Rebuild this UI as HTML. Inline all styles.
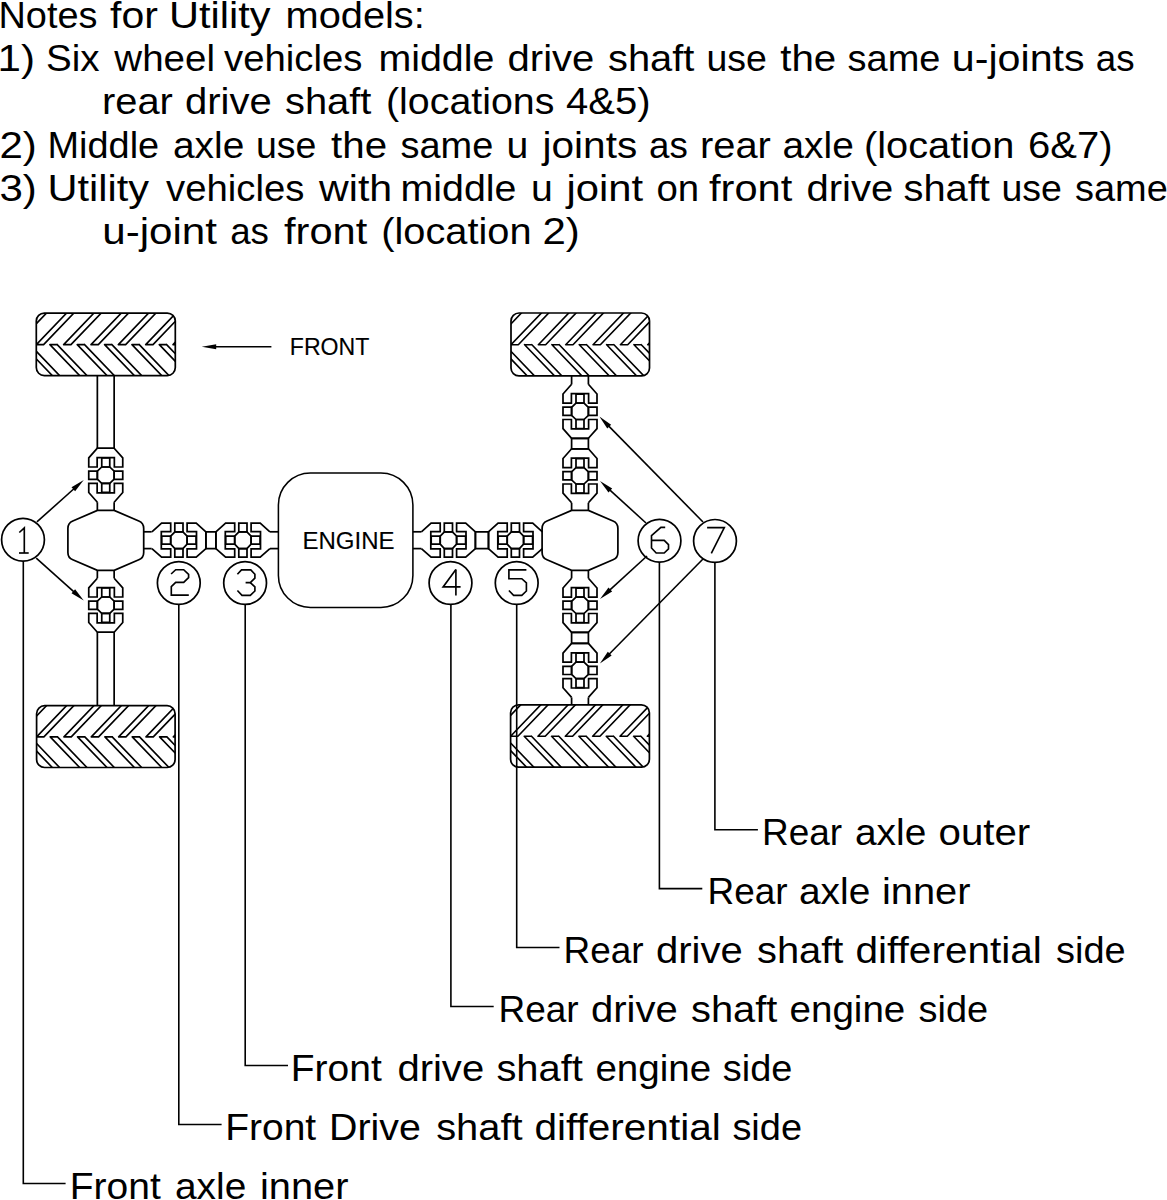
<!DOCTYPE html>
<html><head><meta charset="utf-8"><title>Utility models u-joint locations</title>
<style>html,body{margin:0;padding:0;background:#fff;width:1167px;height:1200px;overflow:hidden;position:relative}</style>
</head><body>
<svg width="1167" height="1200" viewBox="0 0 1167 1200" style="position:absolute;left:0;top:0">
<rect width="1167" height="1200" fill="#fff"/>
<g font-family="Liberation Sans, sans-serif" fill="#000">
<text x="-1.5" y="27.6" font-size="36.2" textLength="99" lengthAdjust="spacingAndGlyphs">Notes</text>
<text x="110" y="27.6" font-size="36.2" textLength="47.79" lengthAdjust="spacingAndGlyphs">for</text>
<text x="169" y="27.6" font-size="36.2" textLength="101.5" lengthAdjust="spacingAndGlyphs">Utility</text>
<text x="285.5" y="27.6" font-size="36.2" textLength="139.31" lengthAdjust="spacingAndGlyphs">models:</text>
<text x="-2.4" y="70.9" font-size="36.2" textLength="37.36" lengthAdjust="spacingAndGlyphs">1)</text>
<text x="46" y="70.9" font-size="36.2" textLength="53.58" lengthAdjust="spacingAndGlyphs">Six</text>
<text x="114.38" y="70.9" font-size="36.2" textLength="100.61" lengthAdjust="spacingAndGlyphs">wheel</text>
<text x="224" y="70.9" font-size="36.2" textLength="138.46" lengthAdjust="spacingAndGlyphs">vehicles</text>
<text x="378.4" y="70.9" font-size="36.2" textLength="115.99" lengthAdjust="spacingAndGlyphs">middle</text>
<text x="507.6" y="70.9" font-size="36.2" textLength="86.75" lengthAdjust="spacingAndGlyphs">drive</text>
<text x="608" y="70.9" font-size="36.2" textLength="86.4" lengthAdjust="spacingAndGlyphs">shaft</text>
<text x="706.4" y="70.9" font-size="36.2" textLength="60.46" lengthAdjust="spacingAndGlyphs">use</text>
<text x="780.2" y="70.9" font-size="36.2" textLength="56.06" lengthAdjust="spacingAndGlyphs">the</text>
<text x="847.6" y="70.9" font-size="36.2" textLength="92.86" lengthAdjust="spacingAndGlyphs">same</text>
<text x="951.8" y="70.9" font-size="36.2" textLength="132.84" lengthAdjust="spacingAndGlyphs">u-joints</text>
<text x="1095.8" y="70.9" font-size="36.2" textLength="38.8" lengthAdjust="spacingAndGlyphs">as</text>
<text x="102" y="114.2" font-size="36.2" textLength="70.9" lengthAdjust="spacingAndGlyphs">rear</text>
<text x="185" y="114.2" font-size="36.2" textLength="86.75" lengthAdjust="spacingAndGlyphs">drive</text>
<text x="285" y="114.2" font-size="36.2" textLength="86.4" lengthAdjust="spacingAndGlyphs">shaft</text>
<text x="386" y="114.2" font-size="36.2" textLength="168.35" lengthAdjust="spacingAndGlyphs">(locations</text>
<text x="566" y="114.2" font-size="36.2" textLength="84.5" lengthAdjust="spacingAndGlyphs">4&amp;5)</text>
<text x="-0.5" y="157.5" font-size="36.2" textLength="37.36" lengthAdjust="spacingAndGlyphs">2)</text>
<text x="47.5" y="157.5" font-size="36.2" textLength="111.63" lengthAdjust="spacingAndGlyphs">Middle</text>
<text x="173" y="157.5" font-size="36.2" textLength="71.3" lengthAdjust="spacingAndGlyphs">axle</text>
<text x="256" y="157.5" font-size="36.2" textLength="60.46" lengthAdjust="spacingAndGlyphs">use</text>
<text x="331" y="157.5" font-size="36.2" textLength="56.06" lengthAdjust="spacingAndGlyphs">the</text>
<text x="400.5" y="157.5" font-size="36.2" textLength="92.86" lengthAdjust="spacingAndGlyphs">same</text>
<text x="506.5" y="157.5" font-size="36.2" textLength="21.83" lengthAdjust="spacingAndGlyphs">u</text>
<text x="542.5" y="157.5" font-size="36.2" textLength="94.68" lengthAdjust="spacingAndGlyphs">joints</text>
<text x="649" y="157.5" font-size="36.2" textLength="38.8" lengthAdjust="spacingAndGlyphs">as</text>
<text x="700" y="157.5" font-size="36.2" textLength="70.9" lengthAdjust="spacingAndGlyphs">rear</text>
<text x="782.5" y="157.5" font-size="36.2" textLength="71.3" lengthAdjust="spacingAndGlyphs">axle</text>
<text x="864" y="157.5" font-size="36.2" textLength="150.32" lengthAdjust="spacingAndGlyphs">(location</text>
<text x="1028" y="157.5" font-size="36.2" textLength="84.5" lengthAdjust="spacingAndGlyphs">6&amp;7)</text>
<text x="-0.5" y="201.1" font-size="36.2" textLength="37.36" lengthAdjust="spacingAndGlyphs">3)</text>
<text x="47.5" y="201.1" font-size="36.2" textLength="101.5" lengthAdjust="spacingAndGlyphs">Utility</text>
<text x="166" y="201.1" font-size="36.2" textLength="138.46" lengthAdjust="spacingAndGlyphs">vehicles</text>
<text x="319.08" y="201.1" font-size="36.2" textLength="73.07" lengthAdjust="spacingAndGlyphs">with</text>
<text x="400.5" y="201.1" font-size="36.2" textLength="115.99" lengthAdjust="spacingAndGlyphs">middle</text>
<text x="531" y="201.1" font-size="36.2" textLength="21.83" lengthAdjust="spacingAndGlyphs">u</text>
<text x="566.52" y="201.1" font-size="36.2" textLength="76.62" lengthAdjust="spacingAndGlyphs">joint</text>
<text x="656.5" y="201.1" font-size="36.2" textLength="42.72" lengthAdjust="spacingAndGlyphs">on</text>
<text x="709" y="201.1" font-size="36.2" textLength="83.26" lengthAdjust="spacingAndGlyphs">front</text>
<text x="806.5" y="201.1" font-size="36.2" textLength="86.75" lengthAdjust="spacingAndGlyphs">drive</text>
<text x="903.5" y="201.1" font-size="36.2" textLength="86.4" lengthAdjust="spacingAndGlyphs">shaft</text>
<text x="1001.5" y="201.1" font-size="36.2" textLength="60.46" lengthAdjust="spacingAndGlyphs">use</text>
<text x="1075" y="201.1" font-size="36.2" textLength="92.86" lengthAdjust="spacingAndGlyphs">same</text>
<text x="102.2" y="244.2" font-size="36.2" textLength="114.82" lengthAdjust="spacingAndGlyphs">u-joint</text>
<text x="230.2" y="244.2" font-size="36.2" textLength="38.8" lengthAdjust="spacingAndGlyphs">as</text>
<text x="284" y="244.2" font-size="36.2" textLength="83.26" lengthAdjust="spacingAndGlyphs">front</text>
<text x="381.2" y="244.2" font-size="36.2" textLength="150.32" lengthAdjust="spacingAndGlyphs">(location</text>
<text x="542.4" y="244.2" font-size="36.2" textLength="37.36" lengthAdjust="spacingAndGlyphs">2)</text>
<text x="762" y="845" font-size="36.2" textLength="80.16" lengthAdjust="spacingAndGlyphs">Rear</text>
<text x="855" y="845" font-size="36.2" textLength="71.3" lengthAdjust="spacingAndGlyphs">axle</text>
<text x="938.5" y="845" font-size="36.2" textLength="91.72" lengthAdjust="spacingAndGlyphs">outer</text>
<text x="707.5" y="904" font-size="36.2" textLength="80.16" lengthAdjust="spacingAndGlyphs">Rear</text>
<text x="799" y="904" font-size="36.2" textLength="71.3" lengthAdjust="spacingAndGlyphs">axle</text>
<text x="882" y="904" font-size="36.2" textLength="88.48" lengthAdjust="spacingAndGlyphs">inner</text>
<text x="563.5" y="962.9" font-size="36.2" textLength="80.16" lengthAdjust="spacingAndGlyphs">Rear</text>
<text x="656" y="962.9" font-size="36.2" textLength="86.75" lengthAdjust="spacingAndGlyphs">drive</text>
<text x="757" y="962.9" font-size="36.2" textLength="86.4" lengthAdjust="spacingAndGlyphs">shaft</text>
<text x="855.5" y="962.9" font-size="36.2" textLength="186.39" lengthAdjust="spacingAndGlyphs">differential</text>
<text x="1056" y="962.9" font-size="36.2" textLength="69.61" lengthAdjust="spacingAndGlyphs">side</text>
<text x="498.5" y="1021.9" font-size="36.2" textLength="80.16" lengthAdjust="spacingAndGlyphs">Rear</text>
<text x="591" y="1021.9" font-size="36.2" textLength="86.75" lengthAdjust="spacingAndGlyphs">drive</text>
<text x="691" y="1021.9" font-size="36.2" textLength="86.4" lengthAdjust="spacingAndGlyphs">shaft</text>
<text x="789.5" y="1021.9" font-size="36.2" textLength="115.81" lengthAdjust="spacingAndGlyphs">engine</text>
<text x="918.5" y="1021.9" font-size="36.2" textLength="69.61" lengthAdjust="spacingAndGlyphs">side</text>
<text x="290.8" y="1080.7" font-size="36.2" textLength="90.99" lengthAdjust="spacingAndGlyphs">Front</text>
<text x="397.4" y="1080.7" font-size="36.2" textLength="86.75" lengthAdjust="spacingAndGlyphs">drive</text>
<text x="496.4" y="1080.7" font-size="36.2" textLength="86.4" lengthAdjust="spacingAndGlyphs">shaft</text>
<text x="595.4" y="1080.7" font-size="36.2" textLength="115.81" lengthAdjust="spacingAndGlyphs">engine</text>
<text x="722.8" y="1080.7" font-size="36.2" textLength="69.61" lengthAdjust="spacingAndGlyphs">side</text>
<text x="225.2" y="1139.6" font-size="36.2" textLength="90.99" lengthAdjust="spacingAndGlyphs">Front</text>
<text x="329" y="1139.6" font-size="36.2" textLength="91.9" lengthAdjust="spacingAndGlyphs">Drive</text>
<text x="436.2" y="1139.6" font-size="36.2" textLength="86.4" lengthAdjust="spacingAndGlyphs">shaft</text>
<text x="534.4" y="1139.6" font-size="36.2" textLength="186.39" lengthAdjust="spacingAndGlyphs">differential</text>
<text x="732.4" y="1139.6" font-size="36.2" textLength="69.61" lengthAdjust="spacingAndGlyphs">side</text>
<text x="69.8" y="1198.5" font-size="36.2" textLength="90.99" lengthAdjust="spacingAndGlyphs">Front</text>
<text x="175" y="1198.5" font-size="36.2" textLength="71.3" lengthAdjust="spacingAndGlyphs">axle</text>
<text x="260" y="1198.5" font-size="36.2" textLength="88.48" lengthAdjust="spacingAndGlyphs">inner</text>
<text x="302.4" y="548.6" font-size="23.5" stroke="#000" stroke-width="0.12" textLength="92.14" lengthAdjust="spacingAndGlyphs">ENGINE</text>
<text x="289.8" y="355.4" font-size="23.5" stroke="#000" stroke-width="0.12" textLength="79.56" lengthAdjust="spacingAndGlyphs">FRONT</text>
</g>
<line x1="271.4" y1="346.7" x2="214.2" y2="346.7" stroke="#000" stroke-width="1.5"/>
<path d="M201.7,346.7 L216.2,344.2 L216.2,349.2 Z" fill="#000"/>
<clipPath id="tc0"><rect x="36.3" y="313.1" width="139" height="62.5" rx="8"/></clipPath>
<g clip-path="url(#tc0)"><path d="M-18.4,344.6 L15.68,309.1 M-11.1,344.6 L22.98,309.1 M-18.4,344.6 L-11.1,344.6 M-4.8,344.6 L28.8,379.6 M2.5,344.6 L36.1,379.6 M-4.8,344.6 L2.5,344.6 M8.95,344.6 L43.03,309.1 M16.25,344.6 L50.33,309.1 M8.95,344.6 L16.25,344.6 M22.55,344.6 L56.15,379.6 M29.85,344.6 L63.45,379.6 M22.55,344.6 L29.85,344.6 M36.3,344.6 L70.38,309.1 M43.6,344.6 L77.68,309.1 M36.3,344.6 L43.6,344.6 M49.9,344.6 L83.5,379.6 M57.2,344.6 L90.8,379.6 M49.9,344.6 L57.2,344.6 M63.65,344.6 L97.73,309.1 M70.95,344.6 L105.03,309.1 M63.65,344.6 L70.95,344.6 M77.25,344.6 L110.85,379.6 M84.55,344.6 L118.15,379.6 M77.25,344.6 L84.55,344.6 M91,344.6 L125.08,309.1 M98.3,344.6 L132.38,309.1 M91,344.6 L98.3,344.6 M104.6,344.6 L138.2,379.6 M111.9,344.6 L145.5,379.6 M104.6,344.6 L111.9,344.6 M118.35,344.6 L152.43,309.1 M125.65,344.6 L159.73,309.1 M118.35,344.6 L125.65,344.6 M131.95,344.6 L165.55,379.6 M139.25,344.6 L172.85,379.6 M131.95,344.6 L139.25,344.6 M145.7,344.6 L179.78,309.1 M153,344.6 L187.08,309.1 M145.7,344.6 L153,344.6 M159.3,344.6 L192.9,379.6 M166.6,344.6 L200.2,379.6 M159.3,344.6 L166.6,344.6 M173.05,344.6 L207.13,309.1 M180.35,344.6 L214.43,309.1 M173.05,344.6 L180.35,344.6 M186.65,344.6 L220.25,379.6 M193.95,344.6 L227.55,379.6 M186.65,344.6 L193.95,344.6 M200.4,344.6 L234.48,309.1 M207.7,344.6 L241.78,309.1 M200.4,344.6 L207.7,344.6 M214,344.6 L247.6,379.6 M221.3,344.6 L254.9,379.6 M214,344.6 L221.3,344.6" fill="none" stroke="#000" stroke-width="1.63" stroke-linecap="round"/></g>
<rect x="36.3" y="313.1" width="139" height="62.5" rx="8" fill="none" stroke="#000" stroke-width="1.72"/>
<line x1="97.35" y1="375.6" x2="97.35" y2="448.2" stroke="#000" stroke-width="1.72"/>
<line x1="114.15" y1="375.6" x2="114.15" y2="448.2" stroke="#000" stroke-width="1.72"/>
<path d="M114.15,448.2 L122.75,457.9 L122.75,467 L114.35,467 L114.35,457.6 L97.15,457.6 L97.15,467 L88.75,467 L88.75,457.9 L97.35,448.2Z" fill="none" stroke="#000" stroke-width="1.72" stroke-linejoin="miter"/>
<path d="M114.15,502.2 L122.75,492.5 L122.75,483.4 L114.35,483.4 L114.35,492.8 L97.15,492.8 L97.15,483.4 L88.75,483.4 L88.75,492.5 L97.35,502.2" fill="none" stroke="#000" stroke-width="1.72" stroke-linejoin="miter"/>
<path d="M101.75,467 L109.75,467 L114.15,471.2 L114.15,479.2 L109.75,483.4 L101.75,483.4 L97.35,479.2 L97.35,471.2Z" fill="none" stroke="#000" stroke-width="1.72" stroke-linejoin="miter"/>
<path d="M101.75,467 L101.75,458 L109.75,458 L109.75,467Z" fill="none" stroke="#000" stroke-width="1.72" stroke-linejoin="miter"/>
<path d="M97.35,471.1 L88.75,471.1 L88.75,479.3 L97.35,479.3Z" fill="none" stroke="#000" stroke-width="1.72" stroke-linejoin="miter"/>
<path d="M101.75,483.4 L101.75,492.4 L109.75,492.4 L109.75,483.4Z" fill="none" stroke="#000" stroke-width="1.72" stroke-linejoin="miter"/>
<path d="M114.15,471.1 L122.75,471.1 L122.75,479.3 L114.15,479.3Z" fill="none" stroke="#000" stroke-width="1.72" stroke-linejoin="miter"/>
<line x1="97.35" y1="502.2" x2="97.35" y2="510.4" stroke="#000" stroke-width="1.72"/>
<line x1="114.15" y1="502.2" x2="114.15" y2="510.4" stroke="#000" stroke-width="1.72"/>
<path d="M97.4,510.4 L114.2,510.4 L138.8,521 Q143.7,523.05 143.7,528.4 L143.7,552.4 Q143.7,557.75 138.8,559.8 L114.2,570.4 L97.4,570.4 L72.8,559.8 Q67.9,557.75 67.9,552.4 L67.9,528.4 Q67.9,523.05 72.8,521 Z" fill="none" stroke="#000" stroke-width="1.72" stroke-linejoin="miter"/>
<line x1="97.35" y1="570.4" x2="97.35" y2="578.2" stroke="#000" stroke-width="1.72"/>
<line x1="114.15" y1="570.4" x2="114.15" y2="578.2" stroke="#000" stroke-width="1.72"/>
<path d="M114.15,578.2 L122.75,587.9 L122.75,597 L114.35,597 L114.35,587.6 L97.15,587.6 L97.15,597 L88.75,597 L88.75,587.9 L97.35,578.2" fill="none" stroke="#000" stroke-width="1.72" stroke-linejoin="miter"/>
<path d="M114.15,632.2 L122.75,622.5 L122.75,613.4 L114.35,613.4 L114.35,622.8 L97.15,622.8 L97.15,613.4 L88.75,613.4 L88.75,622.5 L97.35,632.2Z" fill="none" stroke="#000" stroke-width="1.72" stroke-linejoin="miter"/>
<path d="M101.75,597 L109.75,597 L114.15,601.2 L114.15,609.2 L109.75,613.4 L101.75,613.4 L97.35,609.2 L97.35,601.2Z" fill="none" stroke="#000" stroke-width="1.72" stroke-linejoin="miter"/>
<path d="M101.75,597 L101.75,588 L109.75,588 L109.75,597Z" fill="none" stroke="#000" stroke-width="1.72" stroke-linejoin="miter"/>
<path d="M97.35,601.1 L88.75,601.1 L88.75,609.3 L97.35,609.3Z" fill="none" stroke="#000" stroke-width="1.72" stroke-linejoin="miter"/>
<path d="M101.75,613.4 L101.75,622.4 L109.75,622.4 L109.75,613.4Z" fill="none" stroke="#000" stroke-width="1.72" stroke-linejoin="miter"/>
<path d="M114.15,601.1 L122.75,601.1 L122.75,609.3 L114.15,609.3Z" fill="none" stroke="#000" stroke-width="1.72" stroke-linejoin="miter"/>
<line x1="97.35" y1="632.2" x2="97.35" y2="705.7" stroke="#000" stroke-width="1.72"/>
<line x1="114.15" y1="632.2" x2="114.15" y2="705.7" stroke="#000" stroke-width="1.72"/>
<clipPath id="tc1"><rect x="36.6" y="705.7" width="138.5" height="61.8" rx="8"/></clipPath>
<g clip-path="url(#tc1)"><path d="M-18.1,736.85 L15.64,701.7 M-10.8,736.85 L22.94,701.7 M-18.1,736.85 L-10.8,736.85 M-4.5,736.85 L28.76,771.5 M2.8,736.85 L36.06,771.5 M-4.5,736.85 L2.8,736.85 M9.25,736.85 L42.99,701.7 M16.55,736.85 L50.29,701.7 M9.25,736.85 L16.55,736.85 M22.85,736.85 L56.11,771.5 M30.15,736.85 L63.41,771.5 M22.85,736.85 L30.15,736.85 M36.6,736.85 L70.34,701.7 M43.9,736.85 L77.64,701.7 M36.6,736.85 L43.9,736.85 M50.2,736.85 L83.46,771.5 M57.5,736.85 L90.76,771.5 M50.2,736.85 L57.5,736.85 M63.95,736.85 L97.69,701.7 M71.25,736.85 L104.99,701.7 M63.95,736.85 L71.25,736.85 M77.55,736.85 L110.81,771.5 M84.85,736.85 L118.11,771.5 M77.55,736.85 L84.85,736.85 M91.3,736.85 L125.04,701.7 M98.6,736.85 L132.34,701.7 M91.3,736.85 L98.6,736.85 M104.9,736.85 L138.16,771.5 M112.2,736.85 L145.46,771.5 M104.9,736.85 L112.2,736.85 M118.65,736.85 L152.39,701.7 M125.95,736.85 L159.69,701.7 M118.65,736.85 L125.95,736.85 M132.25,736.85 L165.51,771.5 M139.55,736.85 L172.81,771.5 M132.25,736.85 L139.55,736.85 M146,736.85 L179.74,701.7 M153.3,736.85 L187.04,701.7 M146,736.85 L153.3,736.85 M159.6,736.85 L192.86,771.5 M166.9,736.85 L200.16,771.5 M159.6,736.85 L166.9,736.85 M173.35,736.85 L207.09,701.7 M180.65,736.85 L214.39,701.7 M173.35,736.85 L180.65,736.85 M186.95,736.85 L220.21,771.5 M194.25,736.85 L227.51,771.5 M186.95,736.85 L194.25,736.85 M200.7,736.85 L234.44,701.7 M208,736.85 L241.74,701.7 M200.7,736.85 L208,736.85 M214.3,736.85 L247.56,771.5 M221.6,736.85 L254.86,771.5 M214.3,736.85 L221.6,736.85" fill="none" stroke="#000" stroke-width="1.63" stroke-linecap="round"/></g>
<rect x="36.6" y="705.7" width="138.5" height="61.8" rx="8" fill="none" stroke="#000" stroke-width="1.72"/>
<line x1="143.7" y1="531.8" x2="151.7" y2="531.8" stroke="#000" stroke-width="1.72"/>
<line x1="143.7" y1="548.6" x2="151.7" y2="548.6" stroke="#000" stroke-width="1.72"/>
<path d="M151.9,548.6 L161.6,557.2 L170.7,557.2 L170.7,548.8 L161.3,548.8 L161.3,531.6 L170.7,531.6 L170.7,523.2 L161.6,523.2 L151.9,531.8" fill="none" stroke="#000" stroke-width="1.72" stroke-linejoin="miter"/>
<path d="M205.9,548.6 L196.2,557.2 L187.1,557.2 L187.1,548.8 L196.5,548.8 L196.5,531.6 L187.1,531.6 L187.1,523.2 L196.2,523.2 L205.9,531.8Z" fill="none" stroke="#000" stroke-width="1.72" stroke-linejoin="miter"/>
<path d="M170.7,536.2 L170.7,544.2 L174.9,548.6 L182.9,548.6 L187.1,544.2 L187.1,536.2 L182.9,531.8 L174.9,531.8Z" fill="none" stroke="#000" stroke-width="1.72" stroke-linejoin="miter"/>
<path d="M170.7,536.2 L161.7,536.2 L161.7,544.2 L170.7,544.2Z" fill="none" stroke="#000" stroke-width="1.72" stroke-linejoin="miter"/>
<path d="M174.8,531.8 L174.8,523.2 L183,523.2 L183,531.8Z" fill="none" stroke="#000" stroke-width="1.72" stroke-linejoin="miter"/>
<path d="M187.1,536.2 L196.1,536.2 L196.1,544.2 L187.1,544.2Z" fill="none" stroke="#000" stroke-width="1.72" stroke-linejoin="miter"/>
<path d="M174.8,548.6 L174.8,557.2 L183,557.2 L183,548.6Z" fill="none" stroke="#000" stroke-width="1.72" stroke-linejoin="miter"/>
<path d="M205.9,531.8 L215.9,531.8 L215.9,548.6 L205.9,548.6Z" fill="none" stroke="#000" stroke-width="1.72" stroke-linejoin="miter"/>
<path d="M215.9,548.6 L225.6,557.2 L234.7,557.2 L234.7,548.8 L225.3,548.8 L225.3,531.6 L234.7,531.6 L234.7,523.2 L225.6,523.2 L215.9,531.8Z" fill="none" stroke="#000" stroke-width="1.72" stroke-linejoin="miter"/>
<path d="M269.9,548.6 L260.2,557.2 L251.1,557.2 L251.1,548.8 L260.5,548.8 L260.5,531.6 L251.1,531.6 L251.1,523.2 L260.2,523.2 L269.9,531.8" fill="none" stroke="#000" stroke-width="1.72" stroke-linejoin="miter"/>
<path d="M234.7,536.2 L234.7,544.2 L238.9,548.6 L246.9,548.6 L251.1,544.2 L251.1,536.2 L246.9,531.8 L238.9,531.8Z" fill="none" stroke="#000" stroke-width="1.72" stroke-linejoin="miter"/>
<path d="M234.7,536.2 L225.7,536.2 L225.7,544.2 L234.7,544.2Z" fill="none" stroke="#000" stroke-width="1.72" stroke-linejoin="miter"/>
<path d="M238.8,531.8 L238.8,523.2 L247,523.2 L247,531.8Z" fill="none" stroke="#000" stroke-width="1.72" stroke-linejoin="miter"/>
<path d="M251.1,536.2 L260.1,536.2 L260.1,544.2 L251.1,544.2Z" fill="none" stroke="#000" stroke-width="1.72" stroke-linejoin="miter"/>
<path d="M238.8,548.6 L238.8,557.2 L247,557.2 L247,548.6Z" fill="none" stroke="#000" stroke-width="1.72" stroke-linejoin="miter"/>
<line x1="269.9" y1="531.8" x2="278.4" y2="531.8" stroke="#000" stroke-width="1.72"/>
<line x1="269.9" y1="548.6" x2="278.4" y2="548.6" stroke="#000" stroke-width="1.72"/>
<rect x="278.4" y="473" width="134.5" height="134.4" rx="32" ry="32" fill="none" stroke="#000" stroke-width="1.55"/>
<line x1="412.9" y1="531.8" x2="421.4" y2="531.8" stroke="#000" stroke-width="1.72"/>
<line x1="412.9" y1="548.6" x2="421.4" y2="548.6" stroke="#000" stroke-width="1.72"/>
<path d="M421.4,548.6 L431.1,557.2 L440.2,557.2 L440.2,548.8 L430.8,548.8 L430.8,531.6 L440.2,531.6 L440.2,523.2 L431.1,523.2 L421.4,531.8" fill="none" stroke="#000" stroke-width="1.72" stroke-linejoin="miter"/>
<path d="M475.4,548.6 L465.7,557.2 L456.6,557.2 L456.6,548.8 L466,548.8 L466,531.6 L456.6,531.6 L456.6,523.2 L465.7,523.2 L475.4,531.8Z" fill="none" stroke="#000" stroke-width="1.72" stroke-linejoin="miter"/>
<path d="M440.2,536.2 L440.2,544.2 L444.4,548.6 L452.4,548.6 L456.6,544.2 L456.6,536.2 L452.4,531.8 L444.4,531.8Z" fill="none" stroke="#000" stroke-width="1.72" stroke-linejoin="miter"/>
<path d="M440.2,536.2 L431.2,536.2 L431.2,544.2 L440.2,544.2Z" fill="none" stroke="#000" stroke-width="1.72" stroke-linejoin="miter"/>
<path d="M444.3,531.8 L444.3,523.2 L452.5,523.2 L452.5,531.8Z" fill="none" stroke="#000" stroke-width="1.72" stroke-linejoin="miter"/>
<path d="M456.6,536.2 L465.6,536.2 L465.6,544.2 L456.6,544.2Z" fill="none" stroke="#000" stroke-width="1.72" stroke-linejoin="miter"/>
<path d="M444.3,548.6 L444.3,557.2 L452.5,557.2 L452.5,548.6Z" fill="none" stroke="#000" stroke-width="1.72" stroke-linejoin="miter"/>
<path d="M475.4,531.8 L488.6,531.8 L488.6,548.6 L475.4,548.6Z" fill="none" stroke="#000" stroke-width="1.72" stroke-linejoin="miter"/>
<path d="M488.4,548.6 L498.1,557.2 L507.2,557.2 L507.2,548.8 L497.8,548.8 L497.8,531.6 L507.2,531.6 L507.2,523.2 L498.1,523.2 L488.4,531.8Z" fill="none" stroke="#000" stroke-width="1.72" stroke-linejoin="miter"/>
<path d="M542.4,548.6 L532.7,557.2 L523.6,557.2 L523.6,548.8 L533,548.8 L533,531.6 L523.6,531.6 L523.6,523.2 L532.7,523.2 L542.4,531.8" fill="none" stroke="#000" stroke-width="1.72" stroke-linejoin="miter"/>
<path d="M507.2,536.2 L507.2,544.2 L511.4,548.6 L519.4,548.6 L523.6,544.2 L523.6,536.2 L519.4,531.8 L511.4,531.8Z" fill="none" stroke="#000" stroke-width="1.72" stroke-linejoin="miter"/>
<path d="M507.2,536.2 L498.2,536.2 L498.2,544.2 L507.2,544.2Z" fill="none" stroke="#000" stroke-width="1.72" stroke-linejoin="miter"/>
<path d="M511.3,531.8 L511.3,523.2 L519.5,523.2 L519.5,531.8Z" fill="none" stroke="#000" stroke-width="1.72" stroke-linejoin="miter"/>
<path d="M523.6,536.2 L532.6,536.2 L532.6,544.2 L523.6,544.2Z" fill="none" stroke="#000" stroke-width="1.72" stroke-linejoin="miter"/>
<path d="M511.3,548.6 L511.3,557.2 L519.5,557.2 L519.5,548.6Z" fill="none" stroke="#000" stroke-width="1.72" stroke-linejoin="miter"/>
<clipPath id="tc2"><rect x="511" y="313" width="138.5" height="62.9" rx="8"/></clipPath>
<g clip-path="url(#tc2)"><path d="M456.3,344.7 L490.57,309 M463.6,344.7 L497.87,309 M456.3,344.7 L463.6,344.7 M469.9,344.7 L503.69,379.9 M477.2,344.7 L510.99,379.9 M469.9,344.7 L477.2,344.7 M483.65,344.7 L517.92,309 M490.95,344.7 L525.22,309 M483.65,344.7 L490.95,344.7 M497.25,344.7 L531.04,379.9 M504.55,344.7 L538.34,379.9 M497.25,344.7 L504.55,344.7 M511,344.7 L545.27,309 M518.3,344.7 L552.57,309 M511,344.7 L518.3,344.7 M524.6,344.7 L558.39,379.9 M531.9,344.7 L565.69,379.9 M524.6,344.7 L531.9,344.7 M538.35,344.7 L572.62,309 M545.65,344.7 L579.92,309 M538.35,344.7 L545.65,344.7 M551.95,344.7 L585.74,379.9 M559.25,344.7 L593.04,379.9 M551.95,344.7 L559.25,344.7 M565.7,344.7 L599.97,309 M573,344.7 L607.27,309 M565.7,344.7 L573,344.7 M579.3,344.7 L613.09,379.9 M586.6,344.7 L620.39,379.9 M579.3,344.7 L586.6,344.7 M593.05,344.7 L627.32,309 M600.35,344.7 L634.62,309 M593.05,344.7 L600.35,344.7 M606.65,344.7 L640.44,379.9 M613.95,344.7 L647.74,379.9 M606.65,344.7 L613.95,344.7 M620.4,344.7 L654.67,309 M627.7,344.7 L661.97,309 M620.4,344.7 L627.7,344.7 M634,344.7 L667.79,379.9 M641.3,344.7 L675.09,379.9 M634,344.7 L641.3,344.7 M647.75,344.7 L682.02,309 M655.05,344.7 L689.32,309 M647.75,344.7 L655.05,344.7 M661.35,344.7 L695.14,379.9 M668.65,344.7 L702.44,379.9 M661.35,344.7 L668.65,344.7 M675.1,344.7 L709.37,309 M682.4,344.7 L716.67,309 M675.1,344.7 L682.4,344.7 M688.7,344.7 L722.49,379.9 M696,344.7 L729.79,379.9 M688.7,344.7 L696,344.7" fill="none" stroke="#000" stroke-width="1.63" stroke-linecap="round"/></g>
<rect x="511" y="313" width="138.5" height="62.9" rx="8" fill="none" stroke="#000" stroke-width="1.72"/>
<line x1="571.6" y1="375.9" x2="571.6" y2="384.4" stroke="#000" stroke-width="1.72"/>
<line x1="588.4" y1="375.9" x2="588.4" y2="384.4" stroke="#000" stroke-width="1.72"/>
<path d="M588.4,384.3 L597,394 L597,403.1 L588.6,403.1 L588.6,393.7 L571.4,393.7 L571.4,403.1 L563,403.1 L563,394 L571.6,384.3" fill="none" stroke="#000" stroke-width="1.72" stroke-linejoin="miter"/>
<path d="M588.4,438.3 L597,428.6 L597,419.5 L588.6,419.5 L588.6,428.9 L571.4,428.9 L571.4,419.5 L563,419.5 L563,428.6 L571.6,438.3Z" fill="none" stroke="#000" stroke-width="1.72" stroke-linejoin="miter"/>
<path d="M576,403.1 L584,403.1 L588.4,407.3 L588.4,415.3 L584,419.5 L576,419.5 L571.6,415.3 L571.6,407.3Z" fill="none" stroke="#000" stroke-width="1.72" stroke-linejoin="miter"/>
<path d="M576,403.1 L576,394.1 L584,394.1 L584,403.1Z" fill="none" stroke="#000" stroke-width="1.72" stroke-linejoin="miter"/>
<path d="M571.6,407.2 L563,407.2 L563,415.4 L571.6,415.4Z" fill="none" stroke="#000" stroke-width="1.72" stroke-linejoin="miter"/>
<path d="M576,419.5 L576,428.5 L584,428.5 L584,419.5Z" fill="none" stroke="#000" stroke-width="1.72" stroke-linejoin="miter"/>
<path d="M588.4,407.2 L597,407.2 L597,415.4 L588.4,415.4Z" fill="none" stroke="#000" stroke-width="1.72" stroke-linejoin="miter"/>
<path d="M571.6,438.3 L588.4,438.3 L588.4,448.8 L571.6,448.8Z" fill="none" stroke="#000" stroke-width="1.72" stroke-linejoin="miter"/>
<path d="M588.4,448.8 L597,458.5 L597,467.6 L588.6,467.6 L588.6,458.2 L571.4,458.2 L571.4,467.6 L563,467.6 L563,458.5 L571.6,448.8Z" fill="none" stroke="#000" stroke-width="1.72" stroke-linejoin="miter"/>
<path d="M588.4,502.8 L597,493.1 L597,484 L588.6,484 L588.6,493.4 L571.4,493.4 L571.4,484 L563,484 L563,493.1 L571.6,502.8" fill="none" stroke="#000" stroke-width="1.72" stroke-linejoin="miter"/>
<path d="M576,467.6 L584,467.6 L588.4,471.8 L588.4,479.8 L584,484 L576,484 L571.6,479.8 L571.6,471.8Z" fill="none" stroke="#000" stroke-width="1.72" stroke-linejoin="miter"/>
<path d="M576,467.6 L576,458.6 L584,458.6 L584,467.6Z" fill="none" stroke="#000" stroke-width="1.72" stroke-linejoin="miter"/>
<path d="M571.6,471.7 L563,471.7 L563,479.9 L571.6,479.9Z" fill="none" stroke="#000" stroke-width="1.72" stroke-linejoin="miter"/>
<path d="M576,484 L576,493 L584,493 L584,484Z" fill="none" stroke="#000" stroke-width="1.72" stroke-linejoin="miter"/>
<path d="M588.4,471.7 L597,471.7 L597,479.9 L588.4,479.9Z" fill="none" stroke="#000" stroke-width="1.72" stroke-linejoin="miter"/>
<line x1="571.6" y1="502.8" x2="571.6" y2="510.6" stroke="#000" stroke-width="1.72"/>
<line x1="588.4" y1="502.8" x2="588.4" y2="510.6" stroke="#000" stroke-width="1.72"/>
<path d="M571.6,510.4 L588.4,510.4 L613,521 Q617.9,523.05 617.9,528.4 L617.9,552.4 Q617.9,557.75 613,559.8 L588.4,570.4 L571.6,570.4 L547,559.8 Q542.1,557.75 542.1,552.4 L542.1,528.4 Q542.1,523.05 547,521 Z" fill="none" stroke="#000" stroke-width="1.72" stroke-linejoin="miter"/>
<line x1="571.6" y1="570.4" x2="571.6" y2="578.3" stroke="#000" stroke-width="1.72"/>
<line x1="588.4" y1="570.4" x2="588.4" y2="578.3" stroke="#000" stroke-width="1.72"/>
<path d="M588.4,578.3 L597,588 L597,597.1 L588.6,597.1 L588.6,587.7 L571.4,587.7 L571.4,597.1 L563,597.1 L563,588 L571.6,578.3" fill="none" stroke="#000" stroke-width="1.72" stroke-linejoin="miter"/>
<path d="M588.4,632.3 L597,622.6 L597,613.5 L588.6,613.5 L588.6,622.9 L571.4,622.9 L571.4,613.5 L563,613.5 L563,622.6 L571.6,632.3Z" fill="none" stroke="#000" stroke-width="1.72" stroke-linejoin="miter"/>
<path d="M576,597.1 L584,597.1 L588.4,601.3 L588.4,609.3 L584,613.5 L576,613.5 L571.6,609.3 L571.6,601.3Z" fill="none" stroke="#000" stroke-width="1.72" stroke-linejoin="miter"/>
<path d="M576,597.1 L576,588.1 L584,588.1 L584,597.1Z" fill="none" stroke="#000" stroke-width="1.72" stroke-linejoin="miter"/>
<path d="M571.6,601.2 L563,601.2 L563,609.4 L571.6,609.4Z" fill="none" stroke="#000" stroke-width="1.72" stroke-linejoin="miter"/>
<path d="M576,613.5 L576,622.5 L584,622.5 L584,613.5Z" fill="none" stroke="#000" stroke-width="1.72" stroke-linejoin="miter"/>
<path d="M588.4,601.2 L597,601.2 L597,609.4 L588.4,609.4Z" fill="none" stroke="#000" stroke-width="1.72" stroke-linejoin="miter"/>
<path d="M571.6,632.3 L588.4,632.3 L588.4,643.4 L571.6,643.4Z" fill="none" stroke="#000" stroke-width="1.72" stroke-linejoin="miter"/>
<path d="M588.4,643.4 L597,653.1 L597,662.2 L588.6,662.2 L588.6,652.8 L571.4,652.8 L571.4,662.2 L563,662.2 L563,653.1 L571.6,643.4Z" fill="none" stroke="#000" stroke-width="1.72" stroke-linejoin="miter"/>
<path d="M588.4,697.4 L597,687.7 L597,678.6 L588.6,678.6 L588.6,688 L571.4,688 L571.4,678.6 L563,678.6 L563,687.7 L571.6,697.4" fill="none" stroke="#000" stroke-width="1.72" stroke-linejoin="miter"/>
<path d="M576,662.2 L584,662.2 L588.4,666.4 L588.4,674.4 L584,678.6 L576,678.6 L571.6,674.4 L571.6,666.4Z" fill="none" stroke="#000" stroke-width="1.72" stroke-linejoin="miter"/>
<path d="M576,662.2 L576,653.2 L584,653.2 L584,662.2Z" fill="none" stroke="#000" stroke-width="1.72" stroke-linejoin="miter"/>
<path d="M571.6,666.3 L563,666.3 L563,674.5 L571.6,674.5Z" fill="none" stroke="#000" stroke-width="1.72" stroke-linejoin="miter"/>
<path d="M576,678.6 L576,687.6 L584,687.6 L584,678.6Z" fill="none" stroke="#000" stroke-width="1.72" stroke-linejoin="miter"/>
<path d="M588.4,666.3 L597,666.3 L597,674.5 L588.4,674.5Z" fill="none" stroke="#000" stroke-width="1.72" stroke-linejoin="miter"/>
<line x1="571.6" y1="697.4" x2="571.6" y2="704.8" stroke="#000" stroke-width="1.72"/>
<line x1="588.4" y1="697.4" x2="588.4" y2="704.8" stroke="#000" stroke-width="1.72"/>
<clipPath id="tc3"><rect x="510.6" y="704.8" width="138.8" height="62.4" rx="8"/></clipPath>
<g clip-path="url(#tc3)"><path d="M455.9,736.25 L489.93,700.8 M463.2,736.25 L497.23,700.8 M455.9,736.25 L463.2,736.25 M469.5,736.25 L503.05,771.2 M476.8,736.25 L510.35,771.2 M469.5,736.25 L476.8,736.25 M483.25,736.25 L517.28,700.8 M490.55,736.25 L524.58,700.8 M483.25,736.25 L490.55,736.25 M496.85,736.25 L530.4,771.2 M504.15,736.25 L537.7,771.2 M496.85,736.25 L504.15,736.25 M510.6,736.25 L544.63,700.8 M517.9,736.25 L551.93,700.8 M510.6,736.25 L517.9,736.25 M524.2,736.25 L557.75,771.2 M531.5,736.25 L565.05,771.2 M524.2,736.25 L531.5,736.25 M537.95,736.25 L571.98,700.8 M545.25,736.25 L579.28,700.8 M537.95,736.25 L545.25,736.25 M551.55,736.25 L585.1,771.2 M558.85,736.25 L592.4,771.2 M551.55,736.25 L558.85,736.25 M565.3,736.25 L599.33,700.8 M572.6,736.25 L606.63,700.8 M565.3,736.25 L572.6,736.25 M578.9,736.25 L612.45,771.2 M586.2,736.25 L619.75,771.2 M578.9,736.25 L586.2,736.25 M592.65,736.25 L626.68,700.8 M599.95,736.25 L633.98,700.8 M592.65,736.25 L599.95,736.25 M606.25,736.25 L639.8,771.2 M613.55,736.25 L647.1,771.2 M606.25,736.25 L613.55,736.25 M620,736.25 L654.03,700.8 M627.3,736.25 L661.33,700.8 M620,736.25 L627.3,736.25 M633.6,736.25 L667.15,771.2 M640.9,736.25 L674.45,771.2 M633.6,736.25 L640.9,736.25 M647.35,736.25 L681.38,700.8 M654.65,736.25 L688.68,700.8 M647.35,736.25 L654.65,736.25 M660.95,736.25 L694.5,771.2 M668.25,736.25 L701.8,771.2 M660.95,736.25 L668.25,736.25 M674.7,736.25 L708.73,700.8 M682,736.25 L716.03,700.8 M674.7,736.25 L682,736.25 M688.3,736.25 L721.85,771.2 M695.6,736.25 L729.15,771.2 M688.3,736.25 L695.6,736.25" fill="none" stroke="#000" stroke-width="1.63" stroke-linecap="round"/></g>
<rect x="510.6" y="704.8" width="138.8" height="62.4" rx="8" fill="none" stroke="#000" stroke-width="1.72"/>
<circle cx="23" cy="539.7" r="21.4" fill="none" stroke="#000" stroke-width="1.72"/>
<path d="M19.3,532.5 L24.3,527.8 L24.3,553" fill="none" stroke="#000" stroke-width="1.65" stroke-linejoin="miter"/>
<path d="M19,553 L28.7,553" fill="none" stroke="#000" stroke-width="1.65" stroke-linejoin="miter"/>
<circle cx="178.8" cy="583" r="21.4" fill="none" stroke="#000" stroke-width="1.72"/>
<path d="M171.1,574 L175.7,569.7 L183.7,569.7 L188.6,574.3 L188.6,577.6 L183.7,582.4 L175.7,582.4 L171.3,586.6 L171.3,595.1 L188.8,595.1" fill="none" stroke="#000" stroke-width="1.65" stroke-linejoin="miter"/>
<circle cx="245.1" cy="583" r="21.4" fill="none" stroke="#000" stroke-width="1.72"/>
<path d="M237.4,574.3 L241.5,569.9 L250.8,569.9 L254.9,574.3 L254.9,578.1 L250.3,582.6 L245.6,582.6" fill="none" stroke="#000" stroke-width="1.65" stroke-linejoin="miter"/>
<path d="M250.3,582.6 L254.9,586.9 L254.9,591 L250.3,595.3 L242,595.3 L237.4,590.5" fill="none" stroke="#000" stroke-width="1.65" stroke-linejoin="miter"/>
<circle cx="450.5" cy="583" r="21.4" fill="none" stroke="#000" stroke-width="1.72"/>
<path d="M455.9,569.4 L443.1,586.9 L460.6,586.9" fill="none" stroke="#000" stroke-width="1.65" stroke-linejoin="miter"/>
<path d="M455.9,569.4 L455.9,595.6" fill="none" stroke="#000" stroke-width="1.65" stroke-linejoin="miter"/>
<circle cx="516.7" cy="583" r="21.4" fill="none" stroke="#000" stroke-width="1.72"/>
<path d="M526.4,569.9 L508.9,569.9 L508.9,578.7 L521.8,578.7 L526.4,582.8 L526.4,591 L521.8,595.3 L513.6,595.3 L508.9,590.5" fill="none" stroke="#000" stroke-width="1.65" stroke-linejoin="miter"/>
<circle cx="659.5" cy="540.7" r="21.4" fill="none" stroke="#000" stroke-width="1.72"/>
<path d="M665.2,527.4 L660.9,527.4 L651.5,535.7 L651.5,548 L656.2,553 L664.2,553 L668.5,548.9 L668.5,544.7 L664.2,540.4 L651.5,540.4" fill="none" stroke="#000" stroke-width="1.65" stroke-linejoin="miter"/>
<circle cx="715" cy="540.9" r="21.4" fill="none" stroke="#000" stroke-width="1.72"/>
<path d="M707.1,527.6 L724.3,527.6 L711.3,553.3" fill="none" stroke="#000" stroke-width="1.65" stroke-linejoin="miter"/>
<path d="M23.3,561.1 L23.3,1183.5 L65.6,1183.5" fill="none" stroke="#000" stroke-width="1.6" stroke-linejoin="miter"/>
<path d="M178.8,604.4 L178.8,1124.5 L221.6,1124.5" fill="none" stroke="#000" stroke-width="1.6" stroke-linejoin="miter"/>
<path d="M245.2,604.4 L245.2,1065.5 L288,1065.5" fill="none" stroke="#000" stroke-width="1.6" stroke-linejoin="miter"/>
<path d="M450.9,604.4 L450.9,1006.5 L493.7,1006.5" fill="none" stroke="#000" stroke-width="1.6" stroke-linejoin="miter"/>
<path d="M516.7,604.4 L516.7,947.5 L559.5,947.5" fill="none" stroke="#000" stroke-width="1.6" stroke-linejoin="miter"/>
<path d="M659.4,562.1 L659.4,888.6 L702.3,888.6" fill="none" stroke="#000" stroke-width="1.6" stroke-linejoin="miter"/>
<path d="M714.9,562.3 L714.9,829.7 L757.9,829.7" fill="none" stroke="#000" stroke-width="1.6" stroke-linejoin="miter"/>
<line x1="36.9" y1="521.9" x2="74.81" y2="488" stroke="#000" stroke-width="1.6"/>
<path d="M83.75,480 L75.11,491.35 L71.51,487.32 Z" fill="#000"/>
<line x1="36.25" y1="558.1" x2="74.81" y2="592.6" stroke="#000" stroke-width="1.6"/>
<path d="M83.75,600.6 L71.52,593.28 L75.12,589.25 Z" fill="#000"/>
<line x1="646" y1="523" x2="608.86" y2="489.09" stroke="#000" stroke-width="1.6"/>
<path d="M600,481 L612.16,488.45 L608.52,492.43 Z" fill="#000"/>
<line x1="703" y1="522" x2="607.81" y2="425.16" stroke="#000" stroke-width="1.6"/>
<path d="M599.4,416.6 L611.14,424.69 L607.29,428.48 Z" fill="#000"/>
<line x1="647" y1="556" x2="608.85" y2="590.9" stroke="#000" stroke-width="1.6"/>
<path d="M600,599 L608.51,587.56 L612.15,591.54 Z" fill="#000"/>
<line x1="703" y1="559" x2="608.32" y2="655.05" stroke="#000" stroke-width="1.6"/>
<path d="M599.9,663.6 L607.8,651.73 L611.65,655.52 Z" fill="#000"/>
</svg>
</body></html>
